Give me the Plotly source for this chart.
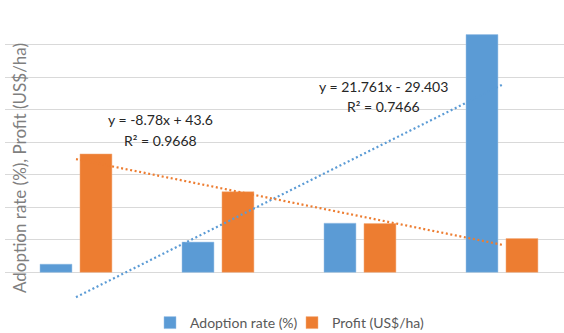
import plotly.graph_objects as go

# Data
categories = [1, 2, 3, 4]
adoption_rate = [2.5, 9.3, 15.1, 73.1]
profit = [36.4, 24.8, 15.0, 10.4]

# Linear trendline coefficients (slope, intercept) and R²
adoption_fit = (21.761, -29.403, 0.7466)
profit_fit = (-8.78, 43.6, 0.9668)

BLUE = "#5B9BD5"
ORANGE = "#ED7D31"
FONT = "Lato"

W, H = 564, 333
ML, MR, MT, MB = 5, 0, 12, 28


def eq_text(fit):
    m, b, _ = fit
    sign = "-" if b < 0 else "+"
    return f"y = {m:g}x {sign} {abs(b):g}"


def r2_text(fit):
    return f"R² = {fit[2]:g}"


def line(fit):
    m, b, _ = fit
    xs = [categories[0], categories[-1]]
    return xs, [m * x + b for x in xs]


fig = go.Figure()
fig.add_trace(go.Bar(
    x=categories, y=adoption_rate, name="Adoption rate (%)", legend="legend",
    marker=dict(color=BLUE, line=dict(color="#9DC3E6", width=0.5)),
    width=0.225, offset=-0.2535,
))
fig.add_trace(go.Bar(
    x=categories, y=profit, name="Profit (US$/ha)", legend="legend2",
    marker=dict(color=ORANGE, line=dict(color="#F4B183", width=0.5)),
    width=0.225, offset=0.028,
))

for fit, color in ((adoption_fit, BLUE), (profit_fit, ORANGE)):
    xs, ys = line(fit)
    fig.add_trace(go.Scatter(
        x=xs, y=ys, mode="lines", showlegend=False, hoverinfo="skip",
        line=dict(color=color, width=2.2, dash="2px,2.6px"),
    ))

pw = W - ML - MR
ph = H - MT - MB


def px_x(p):
    return (p - ML) / pw


def px_y(p):
    return 1 - (p - MT) / ph


def label(text, cx, cy, size=14, color="#262626", angle=0):
    fig.add_annotation(
        x=px_x(cx), y=px_y(cy), xref="paper", yref="paper",
        xanchor="center", yanchor="middle", text=text, showarrow=False,
        textangle=angle, font=dict(family=FONT, size=size, color=color),
    )


# Trendline equations
label(eq_text(profit_fit), 160, 120)
label(r2_text(profit_fit), 160, 140)
label(eq_text(adoption_fit), 383, 86)
label(r2_text(adoption_fit), 383, 106)

# Y-axis title drawn over the plot area
label("Adoption rate (%), Profit (US$/ha)", 19, 168, size=17,
      color="#7F7F7F", angle=-90)

legend_style = dict(
    orientation="h", yanchor="middle", xanchor="left", y=px_y(323),
    font=dict(family=FONT, size=14, color="#595959"),
    itemwidth=30, bgcolor="rgba(0,0,0,0)",
)

fig.update_layout(
    width=W, height=H,
    margin=dict(l=ML, r=MR, t=MT, b=MB, autoexpand=False),
    paper_bgcolor="white", plot_bgcolor="white",
    font=dict(family=FONT, color="#595959"),
    barmode="overlay",
    showlegend=True,
    legend=dict(legend_style, x=px_x(150)),
    legend2=dict(legend_style, x=px_x(292)),
    xaxis=dict(
        range=[0.5, 0.5 + pw / 142], showgrid=False, zeroline=False,
        showticklabels=False, ticks="", showline=False,
    ),
    yaxis=dict(
        range=[-10.05, 80.05], tick0=0, dtick=10, showgrid=True,
        gridcolor="#D9D9D9", gridwidth=1, zeroline=True,
        zerolinecolor="#D9D9D9", zerolinewidth=1,
        showticklabels=False, ticks="", showline=False,
    ),
)

fig.write_html("out.html")
